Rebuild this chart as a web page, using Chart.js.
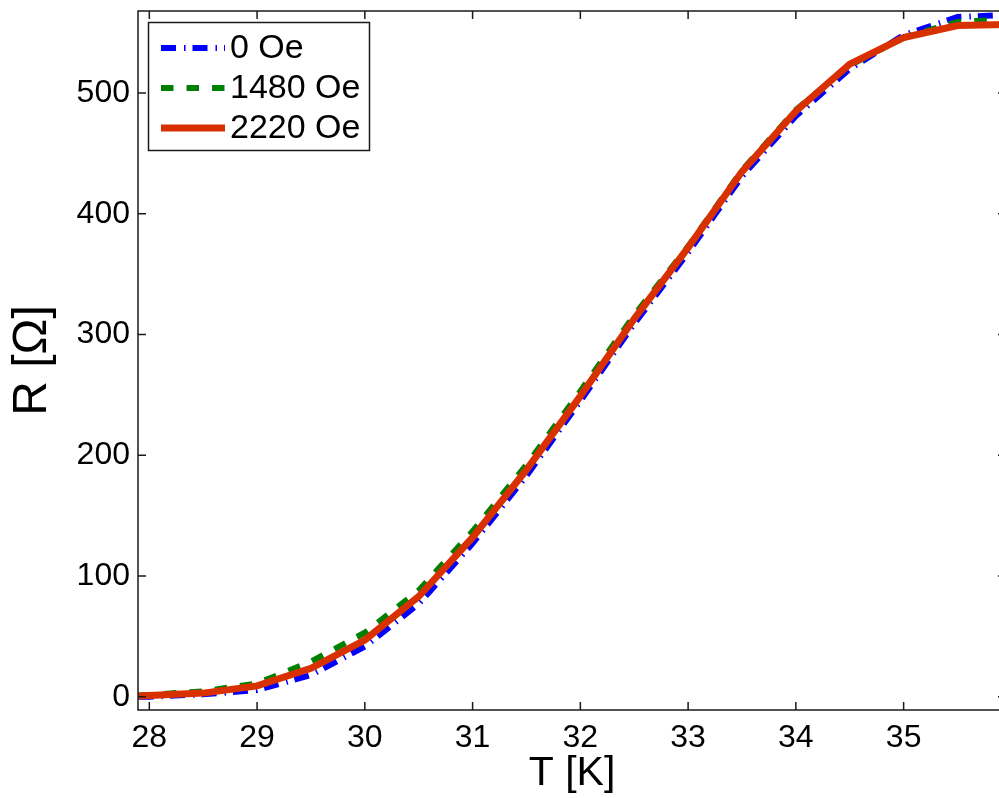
<!DOCTYPE html>
<html><head><meta charset="utf-8">
<script src="https://cdn.jsdelivr.net/npm/chart.js@4"></script>
<style>html,body{margin:0;padding:0;background:#fff;overflow:hidden}
#wrap{position:relative;width:1010px;height:798px}</style></head>
<body><div id="wrap"><canvas id="c"></canvas></div>
<script>
const temperature = [27.9, 28, 28.5, 29, 29.5, 30, 30.5, 31, 31.5, 32, 32.5, 33, 33.5, 34, 34.5, 35, 35.5, 36];
const r0Oe    = [0, 0, 2, 5.5, 18, 41.5, 77, 127, 183, 245, 309, 368, 431, 481, 520, 548, 563, 565];
const r1480Oe = [1, 1.5, 4.5, 11, 29, 53, 88, 137, 192, 253, 316, 373, 436, 486, 523, 546, 559, 561];
const r2220Oe = [0.5, 1, 3, 9, 23.5, 47, 83, 132, 188, 249, 313, 372, 435, 485, 524, 546, 556, 557];
const seriesLabels = ['0 Oe', '1480 Oe', '2220 Oe'];
const xTicks = [28, 29, 30, 31, 32, 33, 34, 35];
const yTicks = [0, 100, 200, 300, 400, 500];

const FONT = '"Liberation Sans", Arial, Helvetica, sans-serif';
const toPts = arr => arr.map((v, i) => ({x: temperature[i], y: v}));

const frameTicks = {
  id: 'frameTicks',
  afterDatasetsDraw(chart) {
    const {ctx, chartArea: a, scales} = chart;
    ctx.save();
    ctx.strokeStyle = '#1a1a1a';
    ctx.lineWidth = 1.5;
    ctx.setLineDash([]);
    ctx.strokeRect(a.left, a.top, a.right - a.left, a.bottom - a.top);
    const L = 8;
    ctx.beginPath();
    scales.x.ticks.forEach(t => {
      const px = scales.x.getPixelForValue(t.value);
      ctx.moveTo(px, a.bottom); ctx.lineTo(px, a.bottom - L);
      ctx.moveTo(px, a.top); ctx.lineTo(px, a.top + L);
    });
    scales.y.ticks.forEach(t => {
      const py = scales.y.getPixelForValue(t.value);
      ctx.moveTo(a.left, py); ctx.lineTo(a.left + L, py);
      ctx.moveTo(a.right, py); ctx.lineTo(a.right - L, py);
    });
    ctx.stroke();
    ctx.restore();
  }
};

const boxLegend = {
  id: 'boxLegend',
  afterDraw(chart) {
    const {ctx} = chart;
    ctx.save();
    const bx = 148.5, by = 22.5, bw = 221, bh = 128;
    ctx.fillStyle = '#fff';
    ctx.fillRect(bx, by, bw, bh);
    ctx.strokeStyle = '#1a1a1a';
    ctx.lineWidth = 1.5;
    ctx.strokeRect(bx, by, bw, bh);
    chart.data.datasets.forEach((ds, i) => {
      const y = 48 + 40 * i;
      ctx.beginPath();
      ctx.setLineDash(ds.borderDash || []);
      ctx.lineCap = 'butt';
      ctx.lineWidth = ds.borderWidth;
      ctx.strokeStyle = ds.borderColor;
      ctx.moveTo(161, y); ctx.lineTo(225, y);
      ctx.stroke();
      ctx.setLineDash([]);
      ctx.fillStyle = '#000';
      ctx.font = '34px ' + FONT;
      ctx.textBaseline = 'middle';
      ctx.textAlign = 'left';
      ctx.fillText(ds.label, 230, y + 1);
    });
    ctx.restore();
  }
};

new Chart(document.getElementById('c'), {
  type: 'line',
  data: {
    datasets: [
      {label: seriesLabels[0], data: toPts(r0Oe), borderColor: '#0000ff', borderWidth: 6,
       borderDash: [15, 8, 1.5, 7], order: 2},
      {label: seriesLabels[1], data: toPts(r1480Oe), borderColor: '#008000', borderWidth: 6,
       borderDash: [12.5, 13], order: 1},
      {label: seriesLabels[2], data: toPts(r2220Oe), borderColor: '#d93000', borderWidth: 7,
       order: 0}
    ]
  },
  options: {
    responsive: true,
    maintainAspectRatio: false,
    animation: false,
    devicePixelRatio: 1,
    layout: {padding: {top: 11, right: 4, left: 0, bottom: 0}},
    elements: {point: {radius: 0}, line: {tension: 0, borderCapStyle: 'butt'}},
    plugins: {legend: {display: false}, tooltip: {enabled: false}},
    scales: {
      x: {
        type: 'linear', min: 27.895, max: 35.95,
        afterBuildTicks: s => { s.ticks = xTicks.map(v => ({value: v})); },
        afterFit: s => { s.height = 88; s.paddingLeft = 0; s.paddingRight = 0; },
        grid: {display: false, drawTicks: false}, border: {display: false},
        ticks: {font: {family: FONT, size: 32}, color: '#000', padding: 9, maxRotation: 0, autoSkip: false},
        title: {display: true, text: 'T [K]', color: '#000', font: {family: FONT, size: 41, lineHeight: 1.2}, padding: {top: 0, bottom: 0}}
      },
      y: {
        type: 'linear', min: -11, max: 568,
        afterBuildTicks: s => { s.ticks = yTicks.map(v => ({value: v})); },
        afterFit: s => { s.width = 138; s.paddingTop = 0; s.paddingBottom = 0; },
        grid: {display: false, drawTicks: false}, border: {display: false},
        ticks: {font: {family: FONT, size: 32}, color: '#000', padding: 8, autoSkip: false},
        title: {display: true, text: 'R [Ω]', color: '#000', font: {family: FONT, size: 48, lineHeight: 1.2}, padding: {top: 4, bottom: 0}}
      }
    }
  },
  plugins: [frameTicks, boxLegend]
});
</script></body></html>
